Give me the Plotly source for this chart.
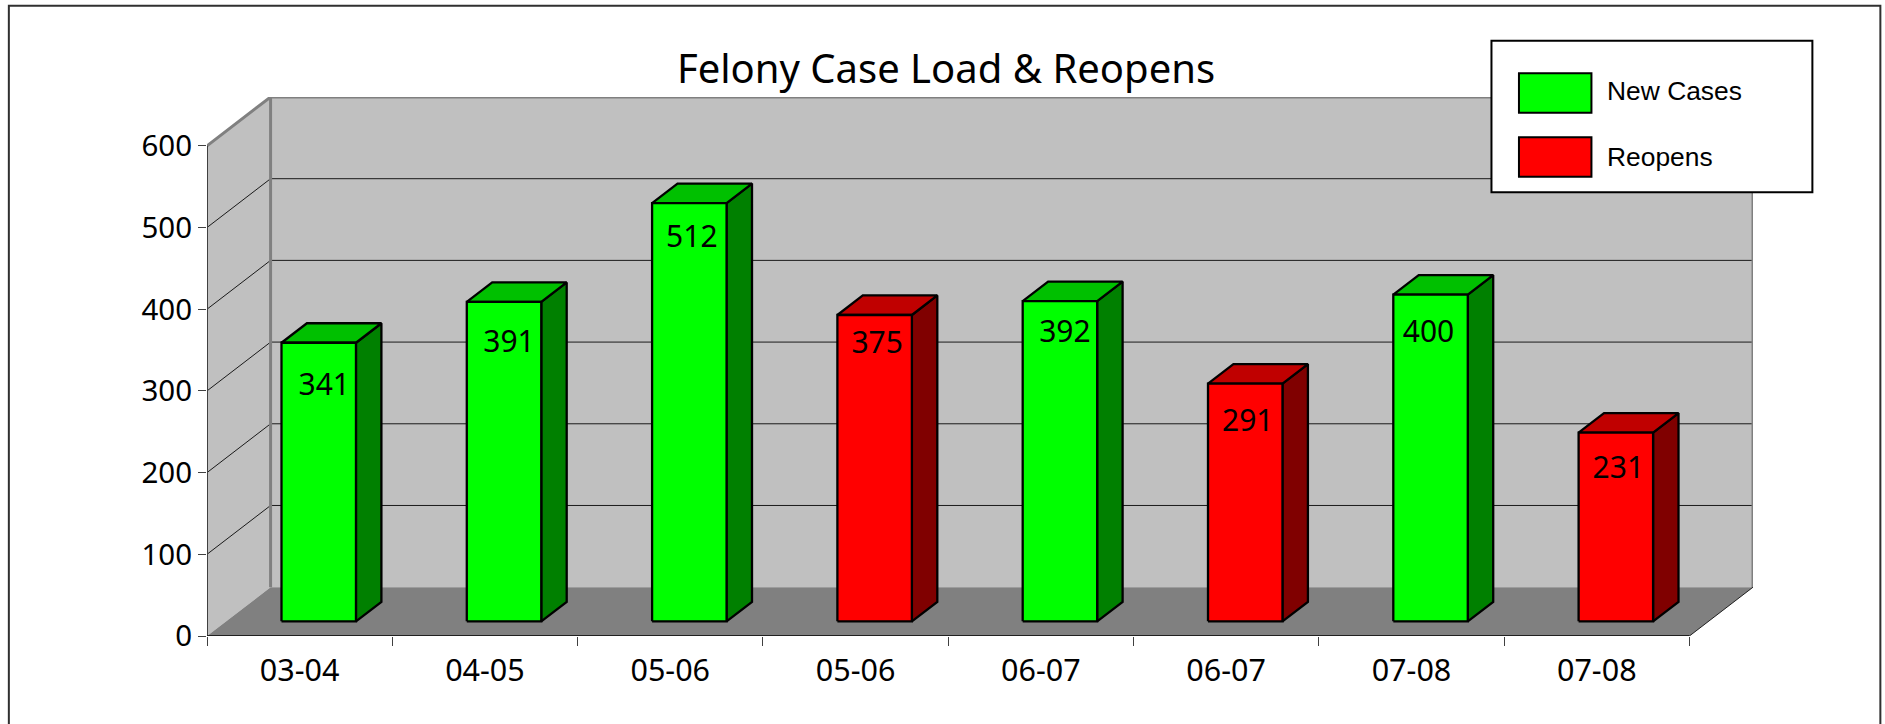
import plotly.graph_objects as go

# ---- data ----
categories = ["03-04", "04-05", "05-06", "05-06", "06-07", "06-07", "07-08", "07-08"]
values = [341, 391, 512, 375, 392, 291, 400, 231]
series = ["New Cases", "New Cases", "New Cases", "Reopens", "New Cases", "Reopens", "New Cases", "Reopens"]
value_ticks = [0, 100, 200, 300, 400, 500, 600]
gridlines = [100, 200, 300, 400, 500]
title_text = "Felony Case Load & Reopens"

# ---- hand-placed data-label nudges of the original, in pixels ----
label_nudge_x = [5.5, 5, 2.5, 2.5, 5, 2.5, -2, 2.5]
label_nudge_y = [45, 43, 36, 30, 33, 40, 40, 38]

# ---- page geometry ----
W, H = 1885, 724
CAT_PX = 185.35              # pixels per category
PX_L, PX_R = 206.7, 206.7 + 8 * CAT_PX + 63.6
PX_T, PX_B = 97.2, 636.0
VAL_PX = (636.0 - 146.0) / 600  # pixels per value unit
DEPTH_X = 63.6 / CAT_PX      # oblique depth of the box in category units
DEPTH_Y = 48.8 / VAL_PX      # oblique depth of the box in value units
N = len(categories)
BAR_W = 74.5 / CAT_PX
D0, D1 = 0.3, 0.7            # bar front and back as fraction of the depth
YMAX = 600

FONT = "Noto Sans"
colors = {
    "New Cases": dict(front="#00FF00", top="#00C000", side="#008000"),
    "Reopens": dict(front="#FF0000", top="#C00000", side="#800000"),
}


def px(cat, val, d=0.0):
    """Oblique projection of (category position, value, depth)."""
    return cat + d * DEPTH_X, val + d * DEPTH_Y


def poly(points):
    xs, ys = zip(*[px(*p) for p in points])
    return list(xs) + [xs[0]], list(ys) + [ys[0]]


def add_fill(fig, points, fill, line=None, width=0, name=""):
    x, y = poly(points)
    fig.add_trace(go.Scatter(
        x=x, y=y, mode="lines", fill="toself", fillcolor=fill, name=name,
        line=dict(color=line or fill, width=width), hoverinfo="skip",
        showlegend=False, cliponaxis=False,
    ))


def add_line(fig, points, color, width):
    xs, ys = zip(*[px(*p) for p in points])
    fig.add_trace(go.Scatter(
        x=list(xs), y=list(ys), mode="lines", line=dict(color=color, width=width),
        hoverinfo="skip", showlegend=False, cliponaxis=False,
    ))


fig = go.Figure()

# walls and floor
add_fill(fig, [(0, 0, 0), (0, 0, 1), (0, YMAX, 1), (0, YMAX, 0)], "#C0C0C0")
add_fill(fig, [(0, 0, 1), (N, 0, 1), (N, YMAX, 1), (0, YMAX, 1)], "#C0C0C0")
add_fill(fig, [(0, 0, 0), (N, 0, 0), (N, 0, 1), (0, 0, 1)], "#808080")

# gridlines
for v in gridlines:
    add_line(fig, [(0, v, 0), (0, v, 1), (N, v, 1)], "#1a1a1a", 1)

# wall edges
add_line(fig, [(0, YMAX, 0), (0, YMAX, 1), (N, YMAX, 1), (N, 0, 1)], "#808080", 3)
add_line(fig, [(0, 0, 1), (0, YMAX, 1)], "#808080", 3)
add_line(fig, [(0, 0, 0), (0, YMAX, 0)], "#404040", 2)
add_line(fig, [(0, 0, 0), (N, 0, 0)], "#202020", 2)
add_line(fig, [(N, 0, 0), (N, 0, 1)], "#202020", 1)

# columns: side, top, front per series
for s in colors:
    for i, (v, ser) in enumerate(zip(values, series)):
        if ser != s:
            continue
        l = i + 0.5 - BAR_W / 2
        r = i + 0.5 + BAR_W / 2
        add_fill(fig, [(r, 0, D0), (r, 0, D1), (r, v, D1), (r, v, D0)], colors[s]["side"], "#000000", 2.3, s)
        add_fill(fig, [(l, v, D0), (r, v, D0), (r, v, D1), (l, v, D1)], colors[s]["top"], "#000000", 2.3, s)
        add_fill(fig, [(l, 0, D0), (r, 0, D0), (r, v, D0), (l, v, D0)], colors[s]["front"], "#000000", 2.3, s)

# data labels
lab_x, lab_y = [], []
for i, v in enumerate(values):
    x, y = px(i + 0.5, v, D0)
    lab_x.append(x + label_nudge_x[i] / CAT_PX)
    lab_y.append(y - label_nudge_y[i] / VAL_PX)
fig.add_trace(go.Scatter(
    x=lab_x, y=lab_y, mode="text", text=[str(v) for v in values],
    textposition="middle center", textfont=dict(family=FONT, size=30, color="#000000"),
    hoverinfo="skip", showlegend=False, cliponaxis=False,
))


def xp(p):
    return (p - PX_L) / (PX_R - PX_L)


def yp(p):
    return (PX_B - p) / (PX_B - PX_T)


shapes = []


def rect(x0, y0, x1, y1, fill, line="#000000", width=2):
    shapes.append(dict(type="rect", xref="paper", yref="paper", x0=xp(x0), x1=xp(x1), y0=yp(y0), y1=yp(y1),
                       fillcolor=fill, line=dict(color=line, width=width), layer="above"))


# legend box
rect(1491.5, 41, 1812.5, 192.5, "#FFFFFF")
rect(1519, 73.5, 1591.5, 113, colors["New Cases"]["front"])
rect(1519, 137.5, 1591.5, 177, colors["Reopens"]["front"])

# outer frame: open at the bottom, as in the reference
shapes.append(dict(type="path", xref="paper", yref="paper",
                   path=f"M {xp(8.5)} {yp(730)} L {xp(8.5)} {yp(6)} L {xp(1880.5)} {yp(6)} L {xp(1880.5)} {yp(730)}",
                   line=dict(color="#303030", width=2), layer="above"))

annotations = [
    dict(xref="paper", yref="paper", x=xp(1605.5), y=yp(91), text="New Cases", showarrow=False, xanchor="left",
         yanchor="middle", font=dict(family="Liberation Sans", size=26.4, color="#000000")),
    dict(xref="paper", yref="paper", x=xp(1605.5), y=yp(157), text="Reopens", showarrow=False, xanchor="left",
         yanchor="middle", font=dict(family="Liberation Sans", size=26.4, color="#000000")),
]

fig.update_layout(
    width=W, height=H,
    margin=dict(l=PX_L, r=W - PX_R, t=PX_T, b=H - PX_B, pad=0),
    paper_bgcolor="#FFFFFF", plot_bgcolor="#FFFFFF",
    showlegend=False, shapes=shapes, annotations=annotations,
    title=dict(text=title_text, x=946 / W, xref="container", xanchor="center",
               y=1 - 68.5 / H, yanchor="middle", font=dict(family=FONT, size=40, color="#000000")),
    xaxis=dict(
        range=[0, N + DEPTH_X], showgrid=False, zeroline=False, showline=False,
        tickmode="array", tickvals=[i + 0.5 for i in range(N)], ticktext=categories,
        ticks="", tickfont=dict(family=FONT, size=30.5, color="#000000"), ticklabelstandoff=13,
        minor=dict(tickmode="array", tickvals=list(range(N + 1)), ticks="outside", ticklen=9, tickwidth=1, tickcolor="#404040", showgrid=False),
    ),
    yaxis=dict(
        range=[0, (PX_B - PX_T) / VAL_PX], showgrid=False, zeroline=False, showline=False,
        tickmode="array", tickvals=value_ticks, ticktext=[str(v) for v in value_ticks],
        ticks="outside", ticklen=8, tickwidth=1, tickcolor="#404040",
        tickfont=dict(family=FONT, size=29.5, color="#000000"), ticklabelstandoff=0,
    ),
)

fig.write_html("out.html", config=dict(displayModeBar=False),
               post_script="document.body.style.margin='0';document.body.style.overflow='hidden';")
